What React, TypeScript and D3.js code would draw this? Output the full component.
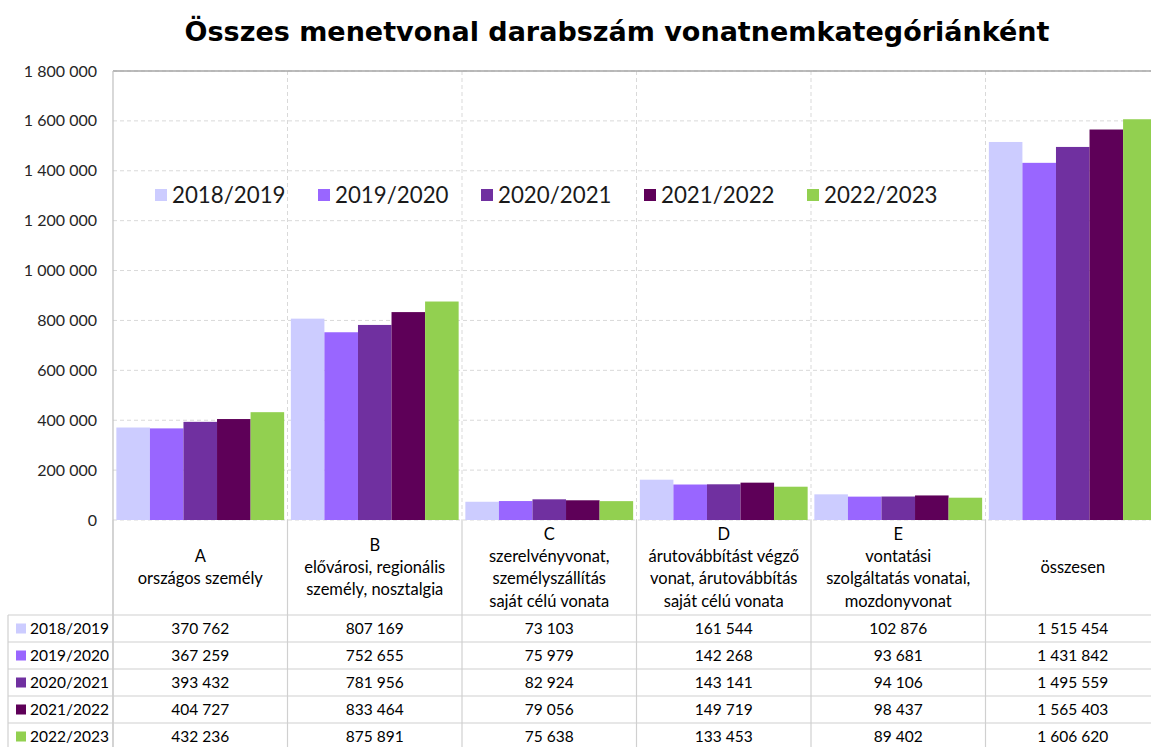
import React from "react";
import * as d3 from "d3";

const TITLE = "Összes menetvonal darabszám vonatnemkategóriánként";
const categories = ["A", "B", "C", "D", "E", "összesen"];
const categoryLabels: string[][] = [
  ["A", "országos személy"],
  ["B", "elővárosi, regionális", "személy, nosztalgia"],
  ["C", "szerelvényvonat,", "személyszállítás", "saját célú vonata"],
  ["D", "árutovábbítást végző", "vonat, árutovábbítás", "saját célú vonata"],
  ["E", "vontatási", "szolgáltatás vonatai,", "mozdonyvonat"],
  ["összesen"],
];
const seriesNames = ["2018/2019", "2019/2020", "2020/2021", "2021/2022", "2022/2023"];
const seriesColors = ["#CCCCFF", "#9966FF", "#7030A0", "#5E0058", "#92D050"];
const v2018 = [370762, 807169, 73103, 161544, 102876, 1515454];
const v2019 = [367259, 752655, 75979, 142268, 93681, 1431842];
const v2020 = [393432, 781956, 82924, 143141, 94106, 1495559];
const v2021 = [404727, 833464, 79056, 149719, 98437, 1565403];
const v2022 = [432236, 875891, 75638, 133453, 89402, 1606620];
const seriesValues = [v2018, v2019, v2020, v2021, v2022];
const yTicks = [0, 200000, 400000, 600000, 800000, 1000000, 1200000, 1400000, 1600000, 1800000];

const W = 1151;
const H = 747;
const plotLeft = 113;
const plotTop = 71;
const plotBottom = 520;
const catW = 174.5;
const headerBottom = 615;
const rowH = 27;
const FONT = "Lato, 'Open Sans', sans-serif";

const loc = d3.formatLocale({ decimal: ",", thousands: " ", grouping: [3], currency: ["", ""] });
const fmt = loc.format(",d");

export default function App() {
  const x = d3.scaleBand<string>().domain(categories).range([plotLeft, plotLeft + catW * categories.length]).padding(0);
  const xs = d3.scaleBand<string>().domain(seriesNames).range([0, x.bandwidth()]).paddingInner(0).paddingOuter(0.1);
  const y = d3.scaleLinear().domain([0, 1800000]).range([plotBottom, plotTop]);
  const grid = "#d9d9d9";
  const tableLine = "#d0d0d0";
  const boundaries = categories.map((c) => x(c)!).concat([x(categories[categories.length - 1])! + x.bandwidth()]);

  return (
    <div style={{ position: "fixed", left: 0, top: 0, width: W, height: H, overflow: "hidden", background: "#fff" }}>
      <svg width={W} height={H} style={{ display: "block" }}>
        <rect width={W} height={H} fill="#fff" />
        <text x={617} y={41} textAnchor="middle" fontFamily="'DejaVu Sans', Verdana, sans-serif" fontWeight="bold" fontSize={27} fill="#000">
          {TITLE}
        </text>
        {/* horizontal gridlines */}
        {yTicks.map((t) => (
          <line key={"g" + t} x1={plotLeft} x2={W + 20} y1={y(t)} y2={y(t)} stroke={grid} strokeDasharray="4,3" />
        ))}
        {/* vertical dashed gridlines */}
        {boundaries.slice(1).map((b, i) => (
          <line key={"v" + i} x1={b} x2={b} y1={plotTop} y2={plotBottom} stroke={grid} strokeDasharray="4,3" />
        ))}
        {/* plot border */}
        <line x1={plotLeft} x2={W + 20} y1={plotTop} y2={plotTop} stroke="#a6a6a6" strokeWidth={1.5} />
        <line x1={plotLeft} x2={plotLeft} y1={plotTop} y2={H} stroke="#bfbfbf" strokeWidth={1.2} />
        {/* y axis labels */}
        {yTicks.map((t) => (
          <text key={"yl" + t} x={97} y={y(t)} dy="0.35em" textAnchor="end" fontFamily={FONT} fontSize={16} fill="#262626">
            {fmt(t)}
          </text>
        ))}
        {/* bars */}
        {seriesNames.map((s, si) => (
          <g key={s} fill={seriesColors[si]}>
            {categories.map((c, ci) => (
              <rect
                key={c}
                x={x(c)! + xs(s)!}
                y={y(seriesValues[si][ci])}
                width={xs.bandwidth()}
                height={plotBottom - y(seriesValues[si][ci])}
              />
            ))}
          </g>
        ))}
        {/* legend */}
        {seriesNames.map((s, si) => (
          <g key={"lg" + s} transform={`translate(${155 + si * 163},195)`}>
            <rect x={0} y={-6} width={12} height={12} fill={seriesColors[si]} />
            <text x={17} y={0} dy="0.35em" fontFamily={FONT} fontSize={22.3} fill="#1a1a1a">
              {s}
            </text>
          </g>
        ))}
        {/* table lines */}
        {boundaries.map((b, i) => (
          <line key={"tv" + i} x1={b} x2={b} y1={plotBottom} y2={H} stroke={tableLine} strokeWidth={1.2} />
        ))}
        <line x1={8} x2={8} y1={headerBottom} y2={H} stroke={tableLine} strokeWidth={1.2} />
        {seriesNames.map((s, si) => (
          <line key={"th" + si} x1={8} x2={W + 20} y1={headerBottom + si * rowH} y2={headerBottom + si * rowH} stroke={tableLine} strokeWidth={1.2} />
        ))}
        {/* header labels */}
        {categories.map((c, ci) => {
          const lines = categoryLabels[ci];
          const lh = 22.2;
          const cy = (plotBottom + headerBottom) / 2;
          const start = cy - ((lines.length - 1) * lh) / 2;
          return (
            <text key={"h" + c} fontFamily={FONT} fontSize={16.5} fill="#000" textAnchor="middle">
              {lines.map((ln, li) => (
                <tspan key={li} x={x(c)! + x.bandwidth() / 2} y={start + li * lh} dy="0.35em">
                  {ln}
                </tspan>
              ))}
            </text>
          );
        })}
        {/* rows */}
        {seriesNames.map((s, si) => {
          const cy = headerBottom + si * rowH + rowH / 2;
          return (
            <g key={"row" + s}>
              <rect x={16} y={cy - 5} width={10} height={10} fill={seriesColors[si]} />
              <text x={30} y={cy} dy="0.35em" fontFamily={FONT} fontSize={15.5} fill="#000">
                {s}
              </text>
              {categories.map((c, ci) => (
                <text key={c} x={x(c)! + x.bandwidth() / 2} y={cy} dy="0.35em" textAnchor="middle" fontFamily={FONT} fontSize={15.5} fill="#000">
                  {fmt(seriesValues[si][ci])}
                </text>
              ))}
            </g>
          );
        })}
      </svg>
    </div>
  );
}
